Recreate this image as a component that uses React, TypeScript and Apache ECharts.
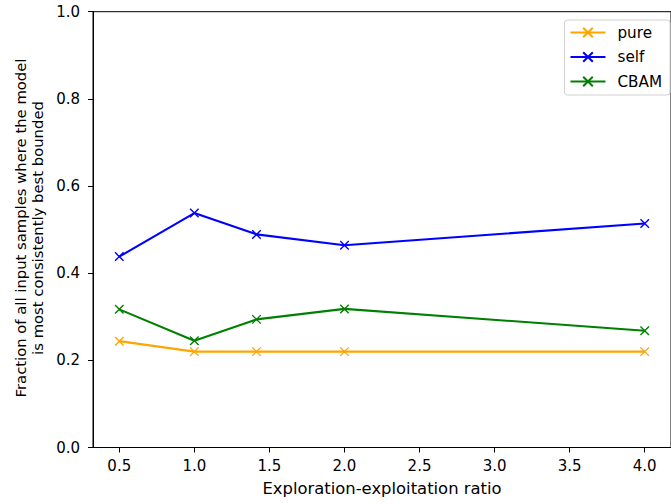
import React, { useEffect, useRef } from "react";
import * as echarts from "echarts";

const xValues = [0.5, 1.0, 1.414, 2.0, 4.0];
const pureValues = [0.244, 0.22, 0.22, 0.22, 0.22];
const selfValues = [0.438, 0.538, 0.489, 0.464, 0.514];
const cbamValues = [0.317, 0.245, 0.294, 0.318, 0.268];
const xTicks = [0.5, 1.0, 1.5, 2.0, 2.5, 3.0, 3.5, 4.0];
const seriesNames = ["pure", "self", "CBAM"];
const seriesColors = ["#FFA500", "#0000FF", "#008000"];
const xLabel = "Exploration-exploitation ratio";
const yLabel = "Fraction of all input samples where the model\nis most consistently best bounded";

const FONT = "DejaVu Sans";
const FS = 15;

export default function App() {
  const ref = useRef<HTMLDivElement>(null);
  useEffect(() => {
    if (!ref.current) return;
    const chart = echarts.init(ref.current, null, { renderer: "svg" });
    const allValues = [pureValues, selfValues, cbamValues];
    const series = seriesNames.map((name, i) => ({
      name,
      type: "line",
      data: xValues.map((x, j) => [x, allValues[i][j]]),
      symbol: "path://M0,0L10,10M10,0L0,10",
      symbolSize: 8.5,
      symbolKeepAspect: true,
      showAllSymbol: true,
      clip: false,
      lineStyle: { color: seriesColors[i], width: 2.1 },
      itemStyle: { color: seriesColors[i], borderColor: seriesColors[i], borderWidth: 1.4 },
      emphasis: { disabled: true },
    }));
    chart.setOption({
      animation: false,
      backgroundColor: "#fff",
      textStyle: { fontFamily: FONT },
      grid: {
        show: true,
        left: 93,
        top: 11.7,
        right: -6,
        bottom: 56.5,
        borderColor: "#000",
        borderWidth: 1,
        containLabel: false,
      },
      xAxis: {
        type: "value",
        min: 0.325,
        max: 4.175,
        axisLine: { show: true, lineStyle: { color: "#000", width: 1 } },
        axisTick: { show: true, customValues: xTicks, length: 5, lineStyle: { color: "#000", width: 1 } },
        axisLabel: {
          customValues: xTicks,
          formatter: (v: number) => v.toFixed(1),
          color: "#000",
          fontSize: FS,
          fontFamily: FONT,
          margin: 11,
        },
        splitLine: { show: false },
        name: xLabel,
        nameLocation: "middle",
        nameGap: 33,
        nameTextStyle: { color: "#000", fontSize: 16.4, fontFamily: FONT },
      },
      yAxis: {
        type: "value",
        min: 0,
        max: 1,
        interval: 0.2,
        axisLine: { show: true, lineStyle: { color: "#000", width: 1 } },
        axisTick: { show: true, length: 5, lineStyle: { color: "#000", width: 1 } },
        axisLabel: {
          formatter: (v: number) => v.toFixed(1),
          color: "#000",
          fontSize: FS,
          fontFamily: FONT,
          margin: 13,
        },
        splitLine: { show: false },
      },
      legend: {
        orient: "vertical",
        right: 1,
        top: 20,
        data: seriesNames,
        itemWidth: 35,
        itemHeight: 12,
        itemGap: 9.5,
        padding: [5, 8, 6, 5],
        backgroundColor: "#fff",
        borderColor: "#d0d0d0",
        borderWidth: 1,
        borderRadius: 3,
        textStyle: { color: "#000", fontSize: 15.2, fontFamily: FONT, padding: [0, 0, 0, 7] },
      },
      graphic: [
        {
          type: "text",
          x: 29,
          y: 228,
          rotation: Math.PI / 2,
          style: {
            text: yLabel,
            align: "center",
            verticalAlign: "middle",
            font: `14.8px "${FONT}"`,
            lineHeight: 16.5,
            fill: "#000",
          },
        },
      ],
      series,
    });
    return () => chart.dispose();
  }, []);
  return (
    <div
      ref={ref}
      style={{ position: "absolute", left: 0, top: 0, width: 671, height: 504, overflow: "hidden" }}
    />
  );
}
